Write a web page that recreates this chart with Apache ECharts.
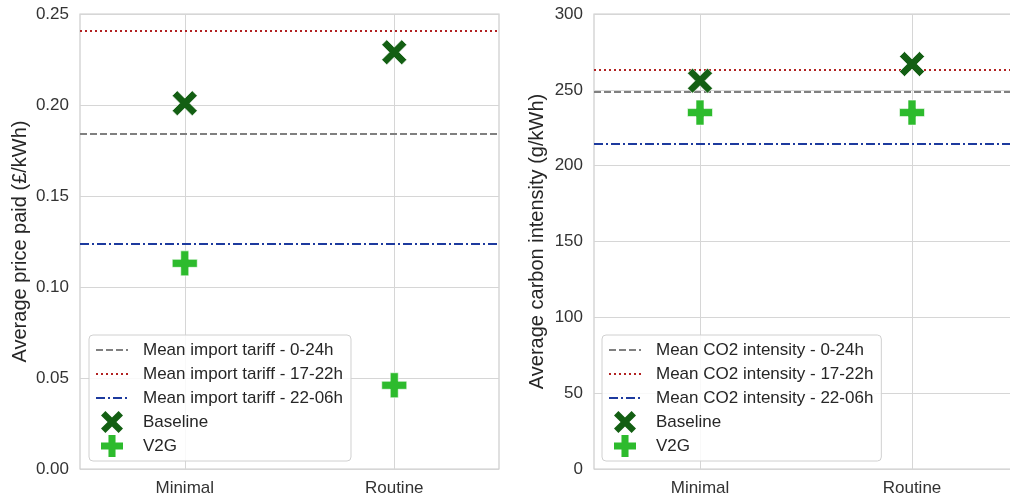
<!DOCTYPE html>
<html>
<head>
    <meta charset="UTF-8">
    <title>price and carbon intensity</title>
    <script src="https://cdn.jsdelivr.net/npm/echarts@6/dist/echarts.min.js"></script>
    <style>
    html, body { margin: 0; padding: 0; background: #fff; }
    #main { width: 1010px; height: 500px; }
    </style>
</head>
<body>
<div id="main"></div>
<script>
// categories on x
var categories = ['Minimal', 'Routine'];

// left panel - price paid (£/kWh)
var priceBaseline = [0.201, 0.229];
var priceV2G = [0.113, 0.046];
var priceMeanAll = 0.184;
var priceMeanPeak = 0.241;
var priceMeanNight = 0.124;
var priceTicks = [0, 0.05, 0.10, 0.15, 0.20, 0.25];

// right panel - carbon intensity (g/kWh)
var co2Baseline = [256, 267];
var co2V2G = [235, 235];
var co2MeanAll = 248.5;
var co2MeanPeak = 263;
var co2MeanNight = 214.7;
var co2Ticks = [0, 50, 100, 150, 200, 250, 300];

var FONT = '"Liberation Sans", Arial, sans-serif';
var X_PATH = 'path://M0,2 L2,0 L5,3 L8,0 L10,2 L7,5 L10,8 L8,10 L5,7 L2,10 L0,8 L3,5 Z';
var PLUS_PATH = 'path://M3.4,0 L6.6,0 L6.6,3.4 L10,3.4 L10,6.6 L6.6,6.6 L6.6,10 L3.4,10 L3.4,6.6 L0,6.6 L0,3.4 L3.4,3.4 Z';

// pad the category axis so gridlines fall on the category centres
var padded = ['', categories[0], ' ', categories[1], '  '];
function isCat(i) { return i === 1 || i === 3; }

function pairs(vals) {
    return categories.map(function (c, i) { return [c, vals[i]]; });
}

function hline(name, v, color, dash, idx) {
    var ls = { color: color, type: dash, width: 2 };
    return {
        name: name, type: 'line', xAxisIndex: idx, yAxisIndex: idx,
        data: [], symbol: 'none', lineStyle: ls, itemStyle: { color: color },
        markLine: {
            silent: true, symbol: ['none', 'none'], label: { show: false }, precision: 5,
            lineStyle: ls, data: [{ yAxis: v }]
        }
    };
}

function marks(name, vals, path, color, idx, z) {
    return {
        name: name, type: 'scatter', xAxisIndex: idx, yAxisIndex: idx,
        data: pairs(vals), symbol: path, symbolSize: 25, symbolKeepAspect: true, z: z,
        itemStyle: { color: color, borderColor: '#fff', borderWidth: 0.6, opacity: 1 }
    };
}

function xAx(idx) {
    return {
        type: 'category', gridIndex: idx, data: padded, boundaryGap: false,
        axisLine: { show: false }, axisTick: { show: false },
        axisLabel: { interval: function (i) { return isCat(i); }, margin: 11,
                     fontSize: 17, color: '#333', fontFamily: FONT },
        splitLine: { show: true, interval: function (i) { return isCat(i); },
                     lineStyle: { color: '#d6d6d6', width: 1 } }
    };
}

function yAx(idx, ticks, name, gap, digits) {
    return {
        type: 'value', gridIndex: idx, min: ticks[0], max: ticks[ticks.length - 1],
        interval: ticks[1] - ticks[0],
        name: name, nameLocation: 'middle', nameGap: gap,
        nameTextStyle: { fontSize: 20, color: '#262626', fontFamily: FONT },
        axisLine: { show: false }, axisTick: { show: false },
        axisLabel: { margin: 11, fontSize: 17, color: '#333', fontFamily: FONT,
                     formatter: function (v) { return v.toFixed(digits); } },
        splitLine: { lineStyle: { color: '#d6d6d6', width: 1 } }
    };
}

function legendAt(left, names) {
    // line entries: hide the round symbol ECharts puts on line icons
    var data = names.map(function (n, i) {
        return i < 3 ? { name: n, itemStyle: { opacity: 0 } } : { name: n, itemStyle: { borderWidth: 0 } };
    });
    return {
        orient: 'vertical', left: left, top: 335, data: data,
        itemWidth: 32, itemHeight: 22, itemGap: 0,
        padding: [3, 8, 3, 6],
        backgroundColor: 'rgba(255,255,255,0.85)',
        borderColor: '#d0d0d0', borderWidth: 1, borderRadius: 4,
        textStyle: { fontSize: 17, lineHeight: 24, color: '#262626', fontFamily: FONT, padding: [0, 0, 0, 10] }
    };
}

var L1 = 'Mean import tariff - 0-24h', L2 = 'Mean import tariff - 17-22h', L3 = 'Mean import tariff - 22-06h';
var R1 = 'Mean CO2 intensity - 0-24h', R2 = 'Mean CO2 intensity - 17-22h', R3 = 'Mean CO2 intensity - 22-06h';

var chart = echarts.init(document.getElementById('main'));
chart.setOption({
    animation: false,
    textStyle: { fontFamily: FONT },
    grid: [
        { left: 80, top: 14, width: 419, height: 455, show: true, outerBoundsMode: 'none',
          borderColor: '#cccccc', borderWidth: 1.2 },
        { left: 594, top: 14, width: 424, height: 455, show: true, outerBoundsMode: 'none',
          borderColor: '#cccccc', borderWidth: 1.2 }
    ],
    xAxis: [xAx(0), xAx(1)],
    yAxis: [
        yAx(0, priceTicks, 'Average price paid (£/kWh)', 50, 2),
        yAx(1, co2Ticks, 'Average carbon intensity (g/kWh)', 47, 0)
    ],
    legend: [
        legendAt(89, [L1, L2, L3, 'Baseline', 'V2G']),
        legendAt(602, [R1, R2, R3, 'Baseline', 'V2G'])
    ],
    series: [
        hline(L1, priceMeanAll, '#808080', [7, 3], 0),
        hline(L2, priceMeanPeak, '#b22222', [2, 3], 0),
        hline(L3, priceMeanNight, '#1d3a9e', [9, 3, 2, 3], 0),
        marks('Baseline', priceBaseline, X_PATH, '#135f13', 0, 5),
        marks('V2G', priceV2G, PLUS_PATH, '#2dbb2d', 0, 5),
        hline(R1, co2MeanAll, '#808080', [7, 3], 1),
        hline(R2, co2MeanPeak, '#b22222', [2, 3], 1),
        hline(R3, co2MeanNight, '#1d3a9e', [9, 3, 2, 3], 1),
        marks('Baseline', co2Baseline, X_PATH, '#135f13', 1, 5),
        marks('V2G', co2V2G, PLUS_PATH, '#2dbb2d', 1, 5)
    ]
});
</script>
</body>
</html>
